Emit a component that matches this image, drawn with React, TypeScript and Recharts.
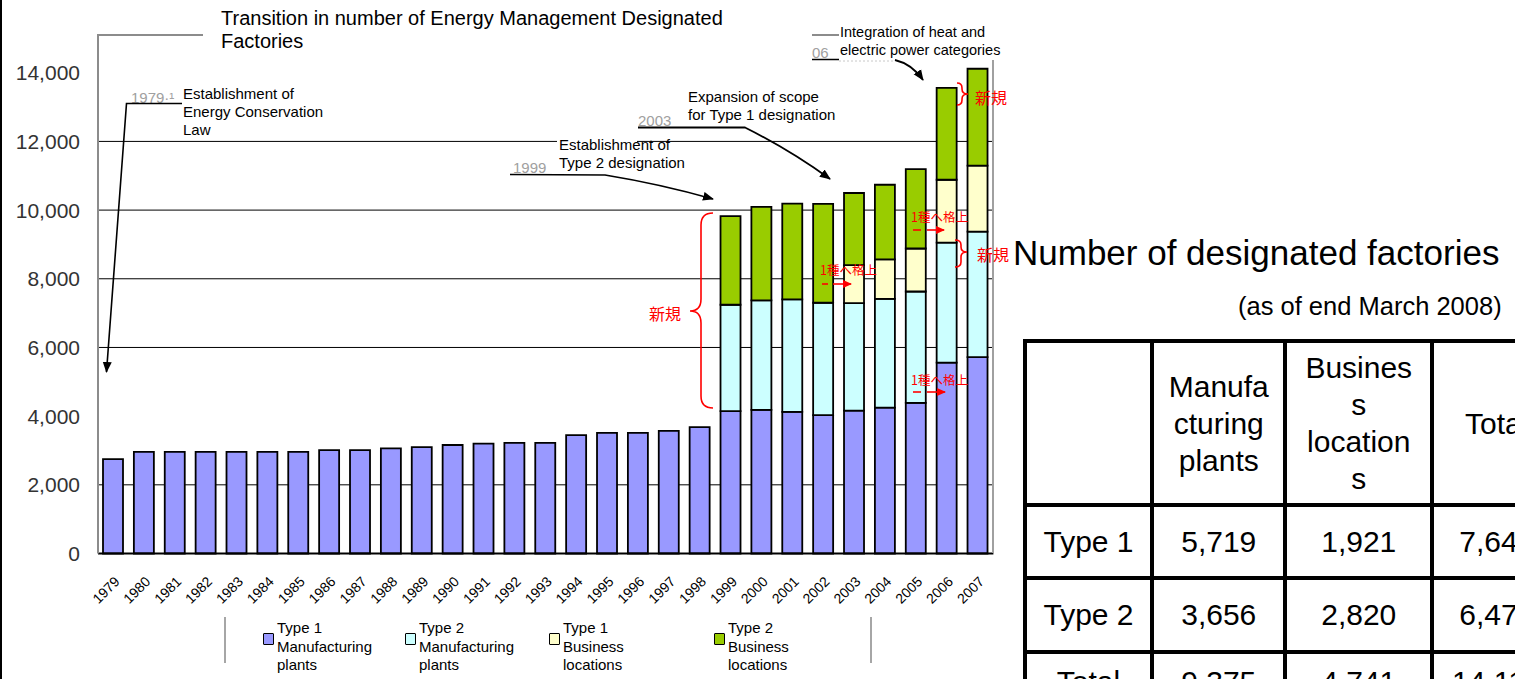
import React from 'react';
import { BarChart, Bar, XAxis, YAxis, CartesianGrid, Legend } from 'recharts';

const FONT = '"Liberation Sans", Arial, sans-serif';
const JP_FONT = '"Noto Sans CJK JP", "Noto Sans CJK SC", sans-serif';

const years = [
  '1979', '1980', '1981', '1982', '1983', '1984', '1985', '1986', '1987', '1988',
  '1989', '1990', '1991', '1992', '1993', '1994', '1995', '1996', '1997', '1998',
  '1999', '2000', '2001', '2002', '2003', '2004', '2005', '2006', '2007'
];

// designated factories per fiscal year, by category
const type1Manufacturing = [
  2750, 2960, 2960, 2960, 2960, 2960, 2960, 3010, 3010, 3060,
  3100, 3160, 3200, 3220, 3220, 3450, 3510, 3510, 3570, 3680,
  4144, 4182, 4124, 4029, 4163, 4250, 4385, 5560, 5719
];
const type2Manufacturing = [
  0, 0, 0, 0, 0, 0, 0, 0, 0, 0,
  0, 0, 0, 0, 0, 0, 0, 0, 0, 0,
  3100, 3188, 3275, 3273, 3129, 3167, 3245, 3494, 3656
];
const type1Business = [
  0, 0, 0, 0, 0, 0, 0, 0, 0, 0,
  0, 0, 0, 0, 0, 0, 0, 0, 0, 0,
  0, 0, 0, 0, 1107, 1146, 1251, 1829, 1921
];
const type2Business = [
  0, 0, 0, 0, 0, 0, 0, 0, 0, 0,
  0, 0, 0, 0, 0, 0, 0, 0, 0, 0,
  2581, 2724, 2791, 2879, 2099, 2175, 2310, 2677, 2820
];

const yTicks = [0, 2000, 4000, 6000, 8000, 10000, 12000, 14000];
const gridValues = [2000, 6000, 8000, 10000, 12000];

const seriesKeys = ['t1m', 't2m', 't1b', 't2b'];
const seriesNames = [
  'Type 1 Manufacturing plants',
  'Type 2 Manufacturing plants',
  'Type 1 Business locations',
  'Type 2 Business locations'
];
const seriesColors = ['#9999ff', '#ccffff', '#ffffcc', '#99cc00'];
const legendLines = [
  ['Type 1', 'Manufacturing', 'plants'],
  ['Type 2', 'Manufacturing', 'plants'],
  ['Type 1', 'Business', 'locations'],
  ['Type 2', 'Business', 'locations']
];

// summary table (end of March 2008)
const tableHeaders = [[], ['Manufa', 'cturing', 'plants'], ['Busines', 's', 'location', 's'], ['Total']];
const tableRows = ['Type 1', 'Type 2', 'Total'];
const manufacturingCounts = [5719, 3656, 9375];
const businessCounts = [1921, 2820, 4741];
const totalCounts = [7640, 6476, 14116];

const chartData = years.map((year, i) => ({
  year,
  t1m: type1Manufacturing[i],
  t2m: type2Manufacturing[i],
  t1b: type1Business[i],
  t2b: type2Business[i]
}));

const fmt = (v: number) => v.toLocaleString('en-US');

const legendLefts = [263, 405, 549, 714];

const ChartLegend = () => (
  <div style={{ position: 'relative', width: 1010, height: 67, fontFamily: FONT, fontSize: 15, lineHeight: '18.5px', color: '#000' }}>
    <div style={{ position: 'absolute', left: 224, top: 5, width: 2, height: 46, background: '#a6a6a6' }} />
    <div style={{ position: 'absolute', left: 870, top: 5, width: 2, height: 46, background: '#a6a6a6' }} />
    {seriesKeys.map((key, i) => (
      <div key={key} style={{ position: 'absolute', left: legendLefts[i], top: 0 }}>
        <span
          style={{
            position: 'absolute', left: 0, top: 21, width: 9, height: 10,
            background: seriesColors[i], border: '1.5px solid #000', borderRadius: 1
          }}
        />
        <div style={{ position: 'absolute', left: 14, top: 7, whiteSpace: 'nowrap' }}>
          {legendLines[i].map((line, j) => <div key={j}>{line}</div>)}
        </div>
      </div>
    ))}
  </div>
);

const Lines = ({ x, y, lines, size, gap, fill = '#000' }: any) => (
  <text x={x} y={y} fontSize={size} fontFamily={FONT} fill={fill}>
    {lines.map((l: string, i: number) => (
      <tspan key={i} x={x} dy={i === 0 ? 0 : gap}>{l}</tspan>
    ))}
  </text>
);

const Notes = () => (
  <svg width={1515} height={679} style={{ position: 'absolute', left: 0, top: 0, pointerEvents: 'none' }}>
    <defs>
      <marker id="headBlack" markerWidth="12" markerHeight="10" refX="10" refY="5" orient="auto" markerUnits="userSpaceOnUse">
        <path d="M0,0.5 L11,5 L0,9.5 z" fill="#000" />
      </marker>
      <marker id="headRed" markerWidth="10" markerHeight="10" refX="8" refY="5" orient="auto" markerUnits="userSpaceOnUse">
        <path d="M0,1 L9,5 L0,9 z" fill="#ff0000" />
      </marker>
    </defs>

    {/* page border */}
    <rect x={0} y={0} width={2} height={679} fill="#000" />

    {/* chart frame */}
    <line x1={98} y1={35} x2={98} y2={70} stroke="#8c8c8c" strokeWidth={2} />
    <line x1={97} y1={35} x2={203} y2={35} stroke="#8c8c8c" strokeWidth={2} />
    <line x1={812} y1={35} x2={839} y2={35} stroke="#8c8c8c" strokeWidth={2} />
    <line x1={993} y1={60} x2={993} y2={553} stroke="#a0a0a0" strokeWidth={2} />

    <Lines x={221} y={25} size={20} gap={23} lines={['Transition in number of Energy Management Designated', 'Factories']} />

    {/* 1979 */}
    <text x={131} y={103} fontSize={15} fontFamily={FONT} fill="#a0a0a0">1979·¹</text>
    <polyline points="182,103.5 126.5,103.5 106.5,372" fill="none" stroke="#000" strokeWidth={1.6} markerEnd="url(#headBlack)" />
    <Lines x={183} y={99} size={15} gap={18} lines={['Establishment of', 'Energy Conservation', 'Law']} />

    {/* 1999 */}
    <rect x={557} y={134} width={80} height={8} fill="#fff" />
    <text x={513} y={173} fontSize={15} fontFamily={FONT} fill="#a0a0a0">1999</text>
    <path d="M510,174.5 L605,175 Q660,184 713,199" fill="none" stroke="#000" strokeWidth={1.6} markerEnd="url(#headBlack)" />
    <Lines x={559} y={150} size={15} gap={18} lines={['Establishment of', 'Type 2 designation']} />

    {/* 2003 */}
    <text x={638} y={126} fontSize={15} fontFamily={FONT} fill="#a0a0a0">2003</text>
    <path d="M638,127.5 L745,127.5 Q790,150 830,179" fill="none" stroke="#000" strokeWidth={1.8} markerEnd="url(#headBlack)" />
    <Lines x={688} y={102} size={15} gap={18} lines={['Expansion of scope', 'for Type 1 designation']} />

    {/* 2006 */}
    <text x={812} y={58} fontSize={15} fontFamily={FONT} fill="#a0a0a0">06</text>
    <line x1={812} y1={59.5} x2={839} y2={59.5} stroke="#000" strokeWidth={1.5} />
    <line x1={839} y1={61} x2={895} y2={61} stroke="#c8c8c8" strokeWidth={1} strokeDasharray="2 2" />
    <path d="M895,60 Q912,64 923,80" fill="none" stroke="#000" strokeWidth={1.8} markerEnd="url(#headBlack)" />
    <Lines x={840} y={37} size={14.5} gap={18} lines={['Integration of heat and', 'electric power categories']} />

    {/* red notes */}
    <g fill="none" stroke="#ff0000" strokeWidth={1.6}>
      <path d="M713,213 Q701,213 701,225 L701,299 Q701,311 690,311 Q701,311 701,323 L701,396 Q701,408 713,408" />
      <path d="M957,83 Q962,83 962,88 L962,89 Q962,94 968,94 Q962,94 962,99 L962,100 Q962,105 957,105" />
      <path d="M955,240 Q961,240 961,245 L961,247 Q961,252 967,252 Q961,252 961,257 L961,262 Q961,267 955,267" />
      <line x1={822} y1={284} x2={828} y2={284} />
      <line x1={833} y1={284} x2={851} y2={284} markerEnd="url(#headRed)" />
      <line x1={913} y1={230} x2={921} y2={230} />
      <line x1={927} y1={230} x2={944} y2={230} markerEnd="url(#headRed)" />
      <line x1={913} y1={392} x2={921} y2={392} />
      <line x1={927} y1={392} x2={945} y2={392} markerEnd="url(#headRed)" />
    </g>
    <g fill="#ff0000" fontFamily={JP_FONT}>
      <text x={649} y={320} fontSize={16}>新規</text>
      <text x={975} y={104} fontSize={16}>新規</text>
      <text x={977} y={261} fontSize={16}>新規</text>
      <text x={820} y={275} fontSize={12.5}>1種へ格上</text>
      <text x={911} y={222} fontSize={12.5}>1種へ格上</text>
      <text x={911} y={385} fontSize={12.5}>1種へ格上</text>
    </g>

    <text x={1013} y={265} fontSize={35} fontFamily={FONT} fill="#000">Number of designated factories</text>
    <text x={1238} y={315} fontSize={25.5} fontFamily={FONT} fill="#000">(as of end March 2008)</text>
  </svg>
);

const colWidths = [127.5, 133, 147, 129];
const cellBorder = '4.5px solid #000';

const SummaryTable = () => {
  const cell: React.CSSProperties = { border: cellBorder, padding: 0, textAlign: 'center', verticalAlign: 'middle' };
  const rows = tableRows.map((label, i) => [label, fmt(manufacturingCounts[i]), fmt(businessCounts[i]), fmt(totalCounts[i])]);
  return (
    <table
      style={{
        position: 'absolute', left: 1022.75, top: 339.25, borderCollapse: 'collapse', tableLayout: 'fixed',
        width: colWidths.reduce((a, b) => a + b, 0), fontFamily: FONT, fontSize: 30, lineHeight: '37px', color: '#000'
      }}
    >
      <colgroup>
        {colWidths.map((w, i) => <col key={i} style={{ width: w }} />)}
      </colgroup>
      <tbody>
        <tr style={{ height: 163.5 }}>
          {tableHeaders.map((lines, i) => (
            <td key={i} style={cell}>{lines.map((l, j) => <div key={j}>{l}</div>)}</td>
          ))}
        </tr>
        {rows.map((r, i) => (
          <tr key={i} style={{ height: 73.4 }}>
            {r.map((v, j) => (
              <td key={j} style={i === rows.length - 1 ? { ...cell, paddingBottom: 14 } : cell}>{v}</td>
            ))}
          </tr>
        ))}
      </tbody>
    </table>
  );
};

export default function App() {
  return (
    <div style={{ position: 'absolute', left: 0, top: 0, width: 1515, height: 679, overflow: 'hidden', background: '#fff' }}>
      <BarChart
        width={1010}
        height={679}
        data={chartData}
        barSize={20}
        margin={{ top: 68.75, right: 16.6, bottom: 65.5, left: 0 }}
      >
        <CartesianGrid vertical={false} horizontalValues={gridValues} stroke="#000" strokeWidth={1} />
        <XAxis
          dataKey="year"
          interval={0}
          angle={-45}
          textAnchor="end"
          height={60}
          tickLine={false}
          tickSize={6}
          tickMargin={16}
          axisLine={{ stroke: '#000', strokeWidth: 2 }}
          tick={{ fontSize: 14, fill: '#000', fontFamily: FONT }}
        />
        <YAxis
          width={98}
          domain={[0, 14000]}
          ticks={yTicks}
          interval={0}
          tickFormatter={fmt}
          tickLine={false}
          tickSize={8}
          tickMargin={10}
          axisLine={{ stroke: '#8c8c8c', strokeWidth: 2 }}
          tick={{ fontSize: 21, fill: '#333', fontFamily: FONT }}
        />
        <Legend
          layout="horizontal"
          verticalAlign="middle"
          align="center"
          wrapperStyle={{ left: 0, top: 612, width: 1010, height: 67 }}
          content={() => <ChartLegend />}
        />
        {seriesKeys.map((key, i) => (
          <Bar
            key={key}
            dataKey={key}
            name={seriesNames[i]}
            stackId="factories"
            fill={seriesColors[i]}
            stroke="#000"
            strokeWidth={1.8}
            isAnimationActive={false}
          />
        ))}
      </BarChart>
      <Notes />
      <SummaryTable />
    </div>
  );
}
